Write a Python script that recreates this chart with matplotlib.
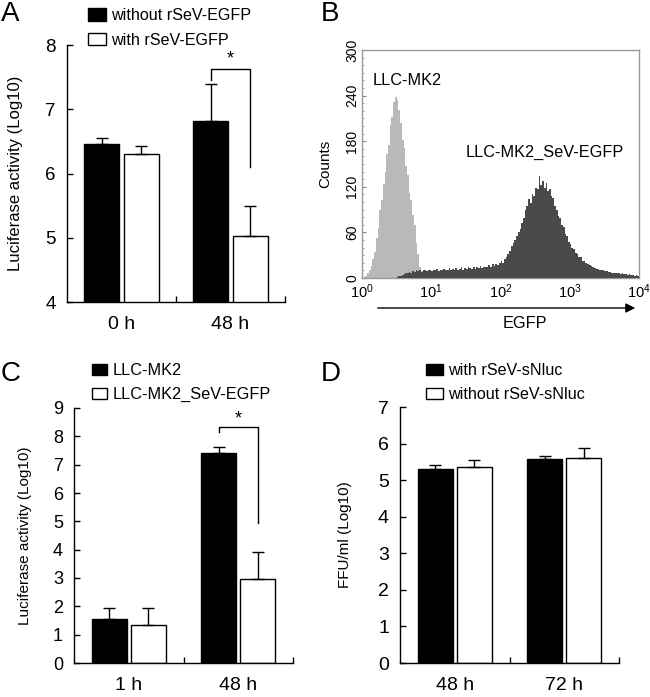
import numpy as np
import matplotlib
matplotlib.use('Agg')
import matplotlib.pyplot as plt
from matplotlib.patches import Patch
from matplotlib.ticker import MultipleLocator, FixedLocator, LogLocator, NullFormatter

plt.rcParams['font.family'] = ['Liberation Sans', 'DejaVu Sans']

# ---------------- data ----------------
# Panel A
a_groups = ['0 h', '48 h']
a_series = ['without rSeV-EGFP', 'with rSeV-EGFP']
a_without = [6.46, 6.82]
a_without_err = [0.09, 0.57]
a_with = [6.30, 5.03]
a_with_err = [0.13, 0.47]

# Panel B (flow cytometry histogram, counts per 0.025-decade channel)
b_labels = ['LLC-MK2', 'LLC-MK2_SeV-EGFP']
b_light = [0, 1, 3, 6, 10, 16, 25, 34, 52, 66,
           89, 103, 124, 140, 163, 175, 201, 212, 231, 238,
           234, 221, 204, 182, 171, 147, 136, 112, 102, 83,
           70, 46, 32, 15, 9, 4, 2, 1, 0, 0]
b_dark = [1, 2, 3, 4,
          5, 6, 7, 8, 7, 9, 8, 10,
          9, 10, 8, 11, 10, 9, 11, 10,
          9, 11, 10, 12, 9, 11, 10, 12,
          11, 10, 13, 11, 12, 10, 13, 11,
          12, 14, 11, 13, 12, 15, 13, 12,
          14, 12, 15, 13, 16, 13, 15, 14,
          15, 17, 14, 18, 16, 19, 17, 20,
          22, 20, 25, 28, 32, 36, 42, 46,
          50, 55, 61, 65, 73, 79, 89, 95,
          104, 99, 111, 108, 119, 117, 134, 123,
          128, 118, 125, 115, 117, 108, 105, 95,
          89, 82, 79, 70, 67, 58, 55, 47,
          45, 39, 38, 33, 32, 27, 27, 23,
          22, 20, 18, 17, 16, 14, 13, 12,
          12, 11, 10, 10, 9, 9, 8, 8,
          7, 7, 6, 7, 6, 5, 6, 5,
          5, 4, 5, 4, 4, 3, 4, 3]
b_yticks = [0, 60, 120, 180, 240, 300]

# Panel C
c_groups = ['1 h', '48 h']
c_series = ['LLC-MK2', 'LLC-MK2_SeV-EGFP']
c_mk2 = [1.55, 7.40]
c_mk2_err = [0.39, 0.22]
c_sev = [1.34, 2.97]
c_sev_err = [0.60, 0.95]

# Panel D
d_groups = ['48 h', '72 h']
d_series = ['with rSeV-sNluc', 'without rSeV-sNluc']
d_with = [5.30, 5.57]
d_with_err = [0.11, 0.08]
d_without = [5.36, 5.60]
d_without_err = [0.19, 0.27]

# ---------------- layout helpers ----------------
W, H = 650, 697
fig = plt.figure(figsize=(W / 100, H / 100), dpi=100)


def ax_px(left, right, top, bottom):
    return fig.add_axes([left / W, 1 - bottom / H, (right - left) / W, (bottom - top) / H])


def fpos(x, y):
    return (x / W, 1 - y / H)


OFF, BW = 0.18, 0.32


def bar_panel(ax, groups, v1, e1, v2, e2, ylim, ystep, ylabel, ylabel_size, ytick_size):
    x = np.arange(len(groups)) + 0.5
    ax.bar(x - OFF, v1, BW, color='black', edgecolor='black', linewidth=1.0, zorder=2)
    ax.bar(x + OFF, v2, BW, color='white', edgecolor='black', linewidth=1.0, zorder=2)
    n = len(groups)
    ax.errorbar(x - OFF, v1, yerr=[np.zeros(n), e1], fmt='none', ecolor='black',
                elinewidth=1.0, capsize=4, capthick=1.0, zorder=3)
    ax.errorbar(x + OFF, v2, yerr=[np.zeros(n), e2], fmt='none', ecolor='black',
                elinewidth=1.0, capsize=4, capthick=1.0, zorder=3)
    ax.set_xlim(0, n)
    ax.set_ylim(*ylim)
    ax.yaxis.set_major_locator(MultipleLocator(ystep))
    ax.set_xticks(x)
    ax.set_xticklabels(groups, fontsize=14)
    ax.xaxis.set_minor_locator(FixedLocator(np.arange(1, n + 1)))
    ax.tick_params(axis='x', which='major', length=0, pad=10)
    ax.tick_params(axis='x', which='minor', direction='in', length=4, width=1)
    ax.tick_params(axis='y', direction='in', length=4, width=1, labelsize=ytick_size, pad=8)
    for s in ['top', 'right']:
        ax.spines[s].set_visible(False)
    for s in ['left', 'bottom']:
        ax.spines[s].set_linewidth(1.0)
    ax.set_ylabel(ylabel, fontsize=ylabel_size)
    return x


def bracket(ax, xl, xr, ytop, yl, yr, ystar):
    ax.plot([xl, xl, xr, xr], [yl, ytop, ytop, yr], color='black', lw=1.0, zorder=4)
    ax.text((xl + xr) / 2, ystar, '*', ha='center', va='center', fontsize=13)


def legend(handles_colors, labels, x, y, fs, hl, hh, ls):
    handles = [Patch(facecolor=c, edgecolor='black', linewidth=1.0) for c in handles_colors]
    fig.legend(handles, labels, loc='upper left', bbox_to_anchor=fpos(x, y),
               frameon=False, fontsize=fs, handlelength=hl, handleheight=hh,
               handletextpad=0.3, labelspacing=ls, borderpad=0, borderaxespad=0)


# ---------------- Panel A ----------------
axA = ax_px(67, 285, 45, 302)
xa = bar_panel(axA, a_groups, a_without, a_without_err, a_with, a_with_err,
               (4, 8), 1, 'Luciferase activity (Log10)', 12, 13.5)
axA.yaxis.set_label_coords(-0.2, 0.5)
bracket(axA, xa[1] - OFF, xa[1] + OFF, 7.63, 7.45, 6.1, 7.78)
legend(['black', 'white'], a_series, 88, 8, 11.6, 1.1, 0.8, 0.6)

# ---------------- Panel B ----------------
axB = ax_px(362, 639, 50, 278)
edges = 10 ** np.arange(0, 4.0001, 0.025)
axB.stairs(b_light, edges[:len(b_light) + 1], fill=True, color='#b9b9b9', zorder=2)
axB.stairs(b_dark, edges[20:20 + len(b_dark) + 1], fill=True, color='#4a4a4a', zorder=3)
axB.set_xscale('log')
axB.set_xlim(1, 1e4)
axB.set_ylim(0, 300)
axB.set_yticks(b_yticks)
axB.set_yticklabels([str(v) for v in b_yticks], rotation=90, va='center', fontsize=10)
axB.yaxis.set_minor_locator(MultipleLocator(10))
axB.xaxis.set_major_locator(LogLocator(base=10, numticks=10))
axB.xaxis.set_minor_locator(LogLocator(base=10, subs=np.arange(2, 10), numticks=10))
axB.xaxis.set_minor_formatter(NullFormatter())
axB.tick_params(axis='both', which='major', direction='in', length=3, width=0.8, color='#888888')
axB.tick_params(axis='both', which='minor', direction='in', length=1.5, width=0.6, color='#888888')
axB.tick_params(axis='x', labelsize=10.5, pad=3)
axB.tick_params(axis='y', pad=2)
for s in axB.spines.values():
    s.set_color('#999999')
    s.set_linewidth(1.0)
axB.set_ylabel('Counts', fontsize=11)
axB.yaxis.set_label_coords(-0.108, 0.5)
axB.text(0.04, 0.865, b_labels[0], transform=axB.transAxes, fontsize=11.7, va='center', ha='left')
axB.text(0.375, 0.55, b_labels[1], transform=axB.transAxes, fontsize=11.7, va='center', ha='left')
axB.annotate('', xy=fpos(638, 308), xytext=fpos(375, 308), xycoords='figure fraction',
             textcoords='figure fraction',
             arrowprops=dict(arrowstyle='-|>', color='black', lw=1.0, mutation_scale=14))
fig.text(*fpos(525, 323), 'EGFP', ha='center', va='center', fontsize=11.7)

# ---------------- Panel C ----------------
axC = ax_px(74, 293, 408, 663)
xc = bar_panel(axC, c_groups, c_mk2, c_mk2_err, c_sev, c_sev_err,
               (0, 9), 1, 'Luciferase activity (Log10)', 11, 13)
axC.yaxis.set_label_coords(-0.19, 0.5)
bracket(axC, xc[1] - OFF, xc[1] + OFF, 8.34, 8.16, 4.95, 8.6)
legend(['black', 'white'], c_series, 92, 363, 11.7, 0.95, 0.7, 0.55)

# ---------------- Panel D ----------------
axD = ax_px(400, 619, 407, 663)
xd = bar_panel(axD, d_groups, d_with, d_with_err, d_without, d_without_err,
               (0, 7), 1, 'FFU/ml (Log10)', 11, 14)
axD.yaxis.set_label_coords(-0.22, 0.5)
legend(['black', 'white'], d_series, 426, 363, 11.6, 1.05, 0.7, 0.55)

# ---------------- panel letters ----------------
for letter, (x, y) in zip('ABCD', [(1, 1), (321, 1), (1, 361), (321, 361)]):
    fig.text(*fpos(x, y), letter, ha='left', va='top', fontsize=20)

fig.savefig('out.png', dpi=100)
